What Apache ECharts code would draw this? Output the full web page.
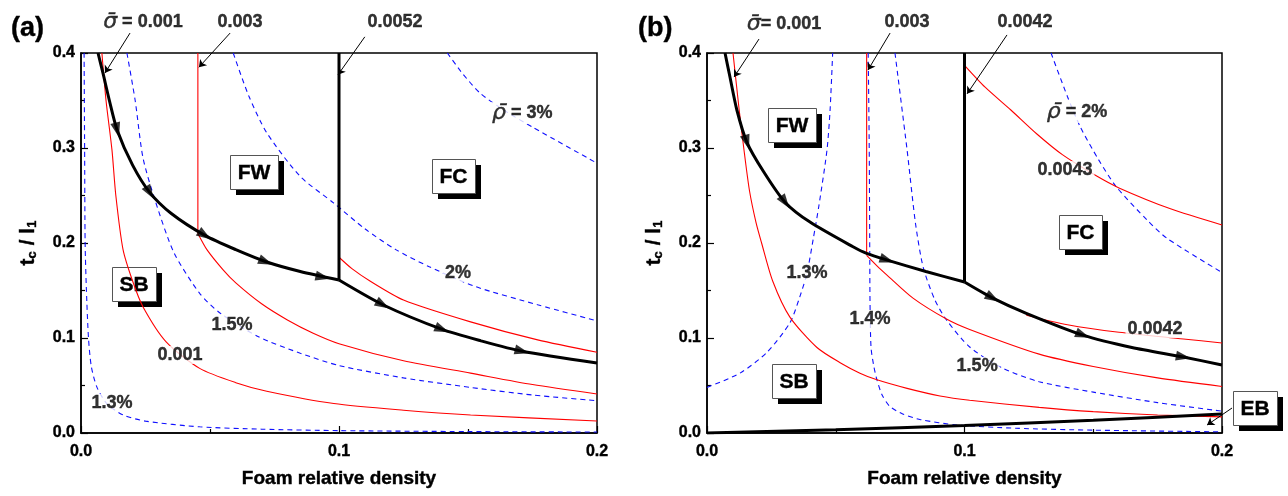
<!DOCTYPE html>
<html>
<head>
<meta charset="utf-8">
<script src="https://cdn.jsdelivr.net/npm/echarts@6/dist/echarts.min.js"></script>
<style>
  html, body { margin: 0; padding: 0; background: #fff; }
  #chart { width: 1288px; height: 496px; }
</style>
</head>
<body>
<div id="chart"></div>
<script>
// values: [foam relative density, tc / l1]
const xTicks = ['0.0', '0.1', '0.2']
const yTicks = ['0.0', '0.1', '0.2', '0.3', '0.4']

// ---- panel (a)
const aPathFW = [[0.0066, 0.4], [0.0085, 0.379], [0.011, 0.35], [0.014, 0.319], [0.02, 0.282], [0.0267, 0.253], [0.035, 0.231], [0.048, 0.208], [0.06, 0.193], [0.072, 0.18], [0.085, 0.17], [0.1, 0.161]]
const aPathFC = [[0.1, 0.161], [0.117, 0.135], [0.14, 0.109], [0.155, 0.097], [0.171, 0.086], [0.2, 0.0737]]
const aWall = [[0.1, 0.161], [0.1, 0.4]]
const aArrows = [[0.014, 0.319], [0.0267, 0.253], [0.048, 0.208], [0.0717, 0.18], [0.0938, 0.164], [0.117, 0.135], [0.14, 0.109], [0.171, 0.086]]
const aRed0001 = [[0.0081, 0.4], [0.0097, 0.35], [0.012, 0.298], [0.0135, 0.25], [0.0163, 0.193], [0.02, 0.16], [0.024, 0.133], [0.033, 0.096], [0.046, 0.068], [0.06, 0.053], [0.072, 0.044], [0.098, 0.031], [0.125, 0.024], [0.151, 0.019], [0.2, 0.0126]]
const aRed0003v = [[0.0453, 0.4], [0.0453, 0.21]]
const aRed0003 = [[0.0453, 0.21], [0.0488, 0.193], [0.055, 0.172], [0.06, 0.158], [0.07, 0.136], [0.08, 0.119], [0.09, 0.105], [0.1, 0.094], [0.125, 0.076], [0.151, 0.063], [0.175, 0.051], [0.2, 0.041]]
const aRed0052 = [[0.1, 0.185], [0.105, 0.173], [0.112, 0.16], [0.125, 0.14], [0.151, 0.117], [0.177, 0.098], [0.2, 0.085]]
const aBlue13 = [[0.0012, 0.4], [0.0014, 0.3], [0.0016, 0.2], [0.0021, 0.15], [0.0029, 0.1], [0.004, 0.07], [0.0062, 0.048], [0.01, 0.031], [0.0163, 0.019], [0.025, 0.0125], [0.046, 0.0065], [0.07, 0.004], [0.1, 0.0025], [0.15, 0.0015], [0.2, 0.001]]
const aBlue15 = [[0.0178, 0.4], [0.021, 0.35], [0.024, 0.29], [0.0287, 0.245], [0.036, 0.19], [0.046, 0.147], [0.054, 0.126], [0.069, 0.101], [0.085, 0.084], [0.1, 0.071], [0.125, 0.058], [0.151, 0.048], [0.175, 0.04], [0.2, 0.034]]
const aBlue2 = [[0.059, 0.4], [0.065, 0.355], [0.072, 0.316], [0.085, 0.27], [0.098, 0.242], [0.11, 0.215], [0.122, 0.193], [0.135, 0.175], [0.153, 0.154], [0.177, 0.135], [0.2, 0.118]]
const aBlue3 = [[0.142, 0.4], [0.148, 0.378], [0.155, 0.357], [0.165, 0.338], [0.175, 0.322], [0.2, 0.284]]

// ---- panel (b)
const bPathFW = [[0.007, 0.4], [0.0089, 0.375], [0.0116, 0.34], [0.0155, 0.306], [0.022, 0.275], [0.0303, 0.243], [0.04, 0.222], [0.0567, 0.196], [0.062, 0.189], [0.07, 0.182], [0.085, 0.17], [0.1, 0.159]]
const bPathFC = [[0.1, 0.159], [0.111, 0.142], [0.124, 0.126], [0.146, 0.103], [0.165, 0.09], [0.185, 0.08], [0.2, 0.0716]]
const bWall = [[0.1, 0.159], [0.1, 0.4]]
const bEB = [[0, 0], [0.05, 0.0035], [0.1, 0.008], [0.15, 0.0135], [0.2, 0.02]]
const bArrows = [[0.0155, 0.306], [0.0303, 0.243], [0.07, 0.182], [0.111, 0.142], [0.146, 0.103], [0.185, 0.08]]
const bRed0001 = [[0.0101, 0.4], [0.0125, 0.34], [0.0145, 0.295], [0.0165, 0.255], [0.019, 0.222], [0.0212, 0.2], [0.0255, 0.16], [0.0322, 0.122], [0.0427, 0.09], [0.0517, 0.074], [0.0594, 0.063], [0.066, 0.056], [0.0777, 0.047], [0.0905, 0.039], [0.102, 0.0345], [0.129, 0.027], [0.15, 0.0225], [0.175, 0.019], [0.2, 0.017]]
const bRed0003v = [[0.062, 0.4], [0.062, 0.187]]
const bRed0003 = [[0.062, 0.187], [0.066, 0.176], [0.07, 0.166], [0.08, 0.142], [0.093, 0.12], [0.102, 0.109], [0.129, 0.083], [0.15, 0.07], [0.175, 0.058], [0.2, 0.049]]
const bRed0042 = [[0.124, 0.124], [0.14, 0.114], [0.16, 0.106], [0.185, 0.099], [0.2, 0.0947]]
const bRed0043 = [[0.1, 0.387], [0.108, 0.364], [0.118, 0.34], [0.128, 0.315], [0.138, 0.293], [0.151, 0.271], [0.16, 0.258], [0.18, 0.236], [0.2, 0.219]]
const bBlue13 = [[0, 0.048], [0.0128, 0.063], [0.0233, 0.085], [0.0322, 0.116], [0.036, 0.143], [0.0388, 0.168], [0.0413, 0.205], [0.0435, 0.24], [0.0466, 0.298], [0.0478, 0.34], [0.0488, 0.4]]
const bBlue14 = [[0.0626, 0.4], [0.063, 0.3], [0.0632, 0.193], [0.0633, 0.14], [0.0637, 0.09], [0.0648, 0.07], [0.066, 0.056], [0.068, 0.04], [0.071, 0.028], [0.076, 0.02], [0.083, 0.014], [0.097, 0.0085], [0.12, 0.005], [0.15, 0.003], [0.2, 0.0012]]
const bBlue15 = [[0.073, 0.4], [0.0777, 0.298], [0.081, 0.22], [0.084, 0.174], [0.0885, 0.14], [0.093, 0.119], [0.102, 0.0905], [0.115, 0.068], [0.129, 0.054], [0.15, 0.043], [0.175, 0.032], [0.2, 0.023]]
const bBlue2 = [[0.1336, 0.4], [0.14, 0.354], [0.145, 0.322], [0.152, 0.288], [0.159, 0.259], [0.171, 0.224], [0.1786, 0.205], [0.2, 0.169]]

// ---- layout and annotations
const FONT = 'Liberation Sans, Arial, sans-serif'
const grids = [
  { left: 81, top: 53, width: 516, height: 380 },
  { left: 707, top: 53, width: 515, height: 380 }
]
const SIG = '{g|σ̄}'
const RHO = '{g|ρ̄}'
const aTexts = [
  [0.024, 0.4326, SIG + '{t| = 0.001}'], [0.0616, 0.4326, '0.003'], [0.1217, 0.4326, '0.0052'],
  [0.171, 0.3368, RHO + '{t| = 3%}'], [0.1461, 0.1684, '2%'], [0.0585, 0.1137, '1.5%'],
  [0.0384, 0.0821, '0.001'], [0.012, 0.0316, '1.3%']
]
const aBoxes = [[0.067, 0.275, 'FW'], [0.1444, 0.2705, 'FC'], [0.0205, 0.157, 'SB']]
const aPointers = [
  [[0.019, 0.421], [0.0093, 0.379]], [[0.0578, 0.421], [0.0457, 0.385]], [[0.110, 0.417], [0.0996, 0.377]]
]
const bTexts = [
  [0.0299, 0.4305, SIG + '{t|= 0.001}'], [0.0777, 0.4326, '0.003'], [0.1235, 0.4326, '0.0042'],
  [0.1437, 0.338, RHO + '{t| = 2%}'], [0.139, 0.2768, '0.0043'], [0.174, 0.1095, '0.0042'],
  [0.0388, 0.168, '1.3%'], [0.0633, 0.12, '1.4%'], [0.1049, 0.0705, '1.5%']
]
const bBoxes = [[0.0332, 0.3247, 'FW'], [0.145, 0.212, 'FC'], [0.0336, 0.0547, 'SB'], [0.213, 0.0258, 'EB']]
const bPointers = [
  [[0.0202, 0.4147], [0.0105, 0.3747]], [[0.0711, 0.421], [0.0625, 0.382]],
  [[0.1165, 0.419], [0.101, 0.357]], [[0.2039, 0.0263], [0.1942, 0.0084]]
]

const RED = '#ff0000'
const BLUE = '#1010ff'
const INK = { color: '#000', textBorderColor: '#000', textBorderWidth: 0.4 }

function curve (g, data, kind) {
  const styles = {
    red: { color: RED, width: 1.1, type: 'solid' },
    blue: { color: BLUE, width: 1.1, type: [5, 4] },
    black: { color: '#000', width: 3, type: 'solid' }
  }
  return {
    type: 'line', xAxisIndex: g, yAxisIndex: g, data: data,
    symbol: 'none', smooth: 0.25, silent: true,
    z: kind === 'black' ? 4 : (kind === 'red' ? 3 : 2),
    lineStyle: styles[kind]
  }
}

// arrow heads along the loading path, turned along the path
function arrowHeads (g, pts, path) {
  const kx = grids[g].width / 0.2
  const ky = grids[g].height / 0.4
  const data = pts.map(p => {
    let i = 0
    while (i < path.length - 2 && path[i + 1][0] < p[0]) i++
    const dx = (path[i + 1][0] - path[i][0]) * kx
    const dy = -(path[i + 1][1] - path[i][1]) * ky
    const rot = Math.atan2(-dx, -dy) * 180 / Math.PI
    return { value: p, symbolRotate: rot }
  })
  return {
    type: 'scatter', xAxisIndex: g, yAxisIndex: g, data: data, silent: true,
    symbol: 'triangle', symbolSize: [10, 15], z: 6,
    itemStyle: { color: '#000' }
  }
}

function pointers (g, list) {
  return {
    type: 'lines', coordinateSystem: 'cartesian2d', xAxisIndex: g, yAxisIndex: g,
    clip: false, silent: true, z: 7,
    symbol: ['none', 'arrow'], symbolSize: 7,
    lineStyle: { color: '#000', width: 1, opacity: 1 },
    data: list.map(c => ({ coords: c }))
  }
}

function texts (g, list) {
  return {
    type: 'scatter', xAxisIndex: g, yAxisIndex: g, clip: false, silent: true, z: 8,
    symbolSize: 1, itemStyle: { color: 'rgba(0,0,0,0)' },
    data: list.map(t => ({ value: [t[0], t[1]], label: { formatter: t[2] } })),
    label: Object.assign({
      show: true, position: 'inside', fontFamily: FONT,
      fontSize: 18, fontWeight: 'bold', backgroundColor: '#fff', padding: [0, 2],
      rich: {
        g: { fontFamily: 'DejaVu Sans, sans-serif', fontStyle: 'italic', fontSize: 22, fontWeight: 'normal', color: '#000' },
        t: Object.assign({ fontFamily: FONT, fontSize: 18, fontWeight: 'bold' }, INK)
      }
    }, INK)
  }
}

function xAxis (g) {
  return {
    gridIndex: g, type: 'value', min: 0, max: 0.2, interval: 0.1,
    axisLine: { show: true, lineStyle: { color: '#000', width: 1.5 } },
    axisTick: { inside: true, length: 7, lineStyle: { color: '#000', width: 1.2 } },
    minorTick: { show: true, splitNumber: 2, length: 4, lineStyle: { color: '#000', width: 1.2 } },
    splitLine: { show: false },
    axisLabel: Object.assign({
      margin: 11, fontFamily: FONT, fontSize: 16, fontWeight: 'bold',
      formatter: v => xTicks[Math.round(v * 10)]
    }, INK),
    name: 'Foam relative density', nameLocation: 'middle', nameGap: 36,
    nameTextStyle: Object.assign({ fontFamily: FONT, fontSize: 19, fontWeight: 'bold' }, INK)
  }
}

function yAxis (g) {
  return {
    gridIndex: g, type: 'value', min: 0, max: 0.4, interval: 0.1,
    axisLine: { show: true, lineStyle: { color: '#000', width: 1.5 } },
    axisTick: { inside: true, length: 7, lineStyle: { color: '#000', width: 1.2 } },
    minorTick: { show: true, splitNumber: 2, length: 4, lineStyle: { color: '#000', width: 1.2 } },
    splitLine: { show: false },
    axisLabel: Object.assign({
      margin: 6, fontFamily: FONT, fontSize: 16, fontWeight: 'bold',
      formatter: v => yTicks[Math.round(v * 10)]
    }, INK),
    name: '{m|t}{s|c}{m| / l}{s|1}', nameLocation: 'middle', nameGap: 42, nameRotate: 90,
    nameTextStyle: {
      color: '#000', fontFamily: FONT, fontWeight: 'bold',
      rich: {
        m: Object.assign({ fontSize: 21, fontWeight: 'bold', fontFamily: FONT, lineHeight: 22 }, INK),
        s: Object.assign({ fontSize: 13, fontWeight: 'bold', fontFamily: FONT, lineHeight: 10, verticalAlign: 'bottom' }, INK)
      }
    }
  }
}

const chart = echarts.init(document.getElementById('chart'))
chart.setOption({
  animation: false,
  backgroundColor: '#fff',
  title: [
    { text: '(a)', left: 6, top: 10, textStyle: Object.assign({ fontSize: 27, fontWeight: 'bold', fontFamily: FONT }, INK) },
    { text: '(b)', left: 633, top: 10, textStyle: Object.assign({ fontSize: 27, fontWeight: 'bold', fontFamily: FONT }, INK) }
  ],
  grid: grids.map(g => Object.assign({ show: true, borderColor: '#000', borderWidth: 1.5, backgroundColor: 'transparent' }, g)),
  xAxis: [xAxis(0), xAxis(1)],
  yAxis: [yAxis(0), yAxis(1)],
  series: [
    curve(0, aBlue13, 'blue'), curve(0, aBlue15, 'blue'), curve(0, aBlue2, 'blue'), curve(0, aBlue3, 'blue'),
    curve(0, aRed0001, 'red'), curve(0, aRed0003v, 'red'), curve(0, aRed0003, 'red'), curve(0, aRed0052, 'red'),
    curve(0, aPathFW, 'black'), curve(0, aPathFC, 'black'), curve(0, aWall, 'black'),
    arrowHeads(0, aArrows, aPathFW.concat(aPathFC.slice(1))),
    pointers(0, aPointers), texts(0, aTexts),

    curve(1, bBlue13, 'blue'), curve(1, bBlue14, 'blue'), curve(1, bBlue15, 'blue'), curve(1, bBlue2, 'blue'),
    curve(1, bRed0001, 'red'), curve(1, bRed0003v, 'red'), curve(1, bRed0003, 'red'),
    curve(1, bRed0042, 'red'), curve(1, bRed0043, 'red'),
    curve(1, bPathFW, 'black'), curve(1, bPathFC, 'black'), curve(1, bWall, 'black'), curve(1, bEB, 'black'),
    arrowHeads(1, bArrows, bPathFW.concat(bPathFC.slice(1))),
    pointers(1, bPointers), texts(1, bTexts)
  ]
})

// region boxes (FW, FC, SB, EB): white framed box with a solid black drop shadow
const measure = document.createElement('canvas').getContext('2d')
measure.font = 'bold 21px Liberation Sans'
function boxGraphics (g, list) {
  return list.map(b => {
    const c = chart.convertToPixel({ gridIndex: g }, [b[0], b[1]])
    const w = Math.round(measure.measureText(b[2]).width) + 15
    const h = 34
    const x = Math.round(c[0] - w / 2)
    const y = Math.round(c[1] - h / 2)
    return {
      type: 'group', z: 100,
      children: [
        { type: 'rect', shape: { x: x + 6, y: y + 6, width: w, height: h }, style: { fill: '#000' } },
        { type: 'rect', shape: { x: x + 0.5, y: y + 0.5, width: w, height: h }, style: { fill: '#fff', stroke: '#555', lineWidth: 1 } },
        {
          type: 'text', x: x + w / 2, y: y + h / 2 + 1,
          style: { text: b[2], fill: '#000', stroke: '#000', lineWidth: 0.4, font: 'bold 21px Liberation Sans, Arial, sans-serif', align: 'center', verticalAlign: 'middle' }
        }
      ]
    }
  })
}
chart.setOption({ graphic: boxGraphics(0, aBoxes).concat(boxGraphics(1, bBoxes)) })
</script>
</body>
</html>
